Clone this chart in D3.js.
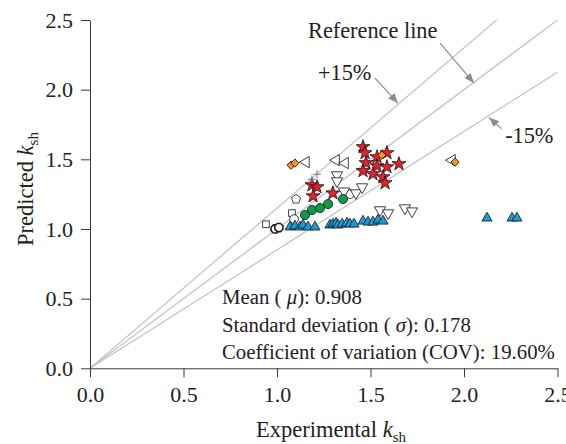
<!DOCTYPE html>
<html><head><meta charset="utf-8">
<script src="https://cdn.jsdelivr.net/npm/d3@7/dist/d3.min.js"></script>
<style>
body{margin:0;background:#fff;}
svg{display:block;font-family:"Liberation Serif","Times New Roman",serif;}
</style></head>
<body><svg id="c" width="566" height="444"></svg>
<script>
// ---- data ----
const ticks = [0, 0.5, 1.0, 1.5, 2.0, 2.5];
const stars = [[1.460,1.589],[1.471,1.546],[1.535,1.517],[1.588,1.546],[1.476,1.474],[1.535,1.452],[1.588,1.445],[1.652,1.467],[1.460,1.417],[1.513,1.395],[1.567,1.373],[1.578,1.330],[1.299,1.257],[1.187,1.315],[1.214,1.301],[1.193,1.236]];
const diamonds = [[1.075,1.458],[1.096,1.473],[1.561,1.530],[1.952,1.480]];
const leftTris = [[1.155,1.480],[1.316,1.494],[1.364,1.473],[1.936,1.494]];
const downTris = [[1.321,1.387],[1.321,1.344],[1.358,1.271],[1.422,1.258],[1.455,1.301],[1.551,1.136],[1.594,1.114],[1.684,1.150],[1.722,1.128]];
const openCircles = [[1.390,1.250],[1.091,1.071]];
const pentagons = [[1.102,1.214]];
const crosses = [[1.214,1.393],[1.187,1.357]];
const greens = [[1.150,1.100],[1.187,1.136],[1.230,1.150],[1.273,1.179],[1.353,1.215]];
const squares = [[0.941,1.034],[1.080,1.114]];
const octagons = [[0.990,1.000],[1.010,1.010]];
const blueTris = [[1.070,1.014],[1.096,1.021],[1.123,1.014],[1.139,1.028],[1.166,1.014],[1.203,1.014],[1.283,1.028],[1.299,1.035],[1.316,1.042],[1.326,1.028],[1.348,1.035],[1.374,1.042],[1.390,1.035],[1.412,1.035],[1.460,1.056],[1.487,1.049],[1.513,1.049],[1.540,1.064],[1.567,1.056],[2.123,1.078],[2.257,1.078],[2.283,1.078]];
const refSlopes = [1.15, 1.0, 0.85];
const statsLines = [["Mean ( ", "μ", "): 0.908"], ["Standard deviation ( ", "σ", "): 0.178"], ["Coefficient of variation (COV): 19.60%", "", ""]];

// ---- layout ----
const svg = d3.select("#c");
const x = d3.scaleLinear().domain([0, 2.5]).range([90, 557.5]);
const y = d3.scaleLinear().domain([0, 2.5]).range([368.3, 20]);
const FS = 22;

const defs = svg.append("defs");
defs.append("clipPath").attr("id","clip").append("rect")
  .attr("x", x(0)).attr("y", y(2.5)).attr("width", x(2.5)-x(0)).attr("height", y(0)-y(2.5));
defs.append("marker").attr("id","arr").attr("viewBox","0 0 10 10").attr("refX",10).attr("refY",5)
  .attr("markerWidth",10).attr("markerHeight",10).attr("markerUnits","userSpaceOnUse").attr("orient","auto")
  .append("path").attr("d","M0,1 L10,5 L0,9 Z").attr("fill","#8c8c8c");

// reference lines
svg.append("g").attr("clip-path","url(#clip)").selectAll("line").data(refSlopes).join("line")
  .attr("x1", x(0)).attr("y1", y(0)).attr("x2", x(2.5)).attr("y2", d => y(2.5*d))
  .attr("stroke","#c4c4c4").attr("stroke-width",1.3);

// axes
const fmt = d3.format(".1f");
const gx = svg.append("g").attr("transform",`translate(0,${y(0)})`)
  .call(d3.axisBottom(x).tickValues(ticks).tickFormat(fmt).tickSize(9).tickSizeOuter(0).tickPadding(9));
const gy = svg.append("g").attr("transform",`translate(${x(0)},0)`)
  .call(d3.axisLeft(y).tickValues(ticks).tickFormat(fmt).tickSize(9).tickSizeOuter(0).tickPadding(8));
[gx, gy].forEach(g => {
  g.selectAll("path,line").attr("stroke","#3a3a3a").attr("stroke-width",1);
  g.selectAll("text").attr("font-family","Liberation Serif").attr("font-size",FS).attr("fill","#222");
});

// axis titles
const xt = svg.append("text").attr("x",331).attr("y",437).attr("text-anchor","middle").attr("font-size",22.5).attr("fill","#222");
xt.append("tspan").text("Experimental ");
xt.append("tspan").attr("font-style","italic").text("k");
xt.append("tspan").attr("font-size",15).attr("dy",5).text("sh");
const yt = svg.append("text").attr("transform",`translate(33,189) rotate(-90)`).attr("text-anchor","middle").attr("font-size",22.5).attr("fill","#222");
yt.append("tspan").text("Predicted ");
yt.append("tspan").attr("font-style","italic").text("k");
yt.append("tspan").attr("font-size",15).attr("dy",5).text("sh");

// annotations
function ann(label, tx, ty, ax1, ay1, ax2, ay2){
  svg.append("text").attr("x",x(tx)).attr("y",y(ty)).attr("font-size",22.3).attr("fill","#222").text(label);
  svg.append("line").attr("x1",x(ax1)).attr("y1",y(ay1)).attr("x2",x(ax2)).attr("y2",y(ay2))
    .attr("stroke","#8c8c8c").attr("stroke-width",1.2).attr("marker-end","url(#arr)");
}
ann("Reference line", 1.166, 2.37, 1.872, 2.334, 2.053, 2.047);
ann("+15%", 1.219, 2.068, 1.524, 2.083, 1.647, 1.903);
ann("-15%", 2.22, 1.62, 2.20, 1.72, 2.134, 1.800);

// symbols
const pentagon = {draw(ctx, size){ const r=Math.sqrt(size/2.378); for(let i=0;i<5;i++){const a=-Math.PI/2+i*2*Math.PI/5; const px=r*Math.cos(a), py=r*Math.sin(a); i?ctx.lineTo(px,py):ctx.moveTo(px,py);} ctx.closePath(); }};
const octagon = {draw(ctx, size){ const r=Math.sqrt(size/2.828); for(let i=0;i<8;i++){const a=Math.PI/8+i*Math.PI/4; const px=r*Math.cos(a), py=r*Math.sin(a); i?ctx.lineTo(px,py):ctx.moveTo(px,py);} ctx.closePath(); }};

function pts(data, type, size, fill, rot, stroke, sw){
  svg.append("g").selectAll("path").data(data).join("path")
    .attr("d", d3.symbol().type(type).size(size))
    .attr("transform", d => `translate(${x(d[0])},${y(d[1])}) rotate(${rot||0})`)
    .attr("fill", fill).attr("stroke", stroke||"#111").attr("stroke-width", sw||0.8);
}
pts(octagons, octagon, 55, "#fff", 0, "#222", 1.6);
pts(squares, d3.symbolSquare, 45, "#fff");
pts(openCircles, d3.symbolCircle, 60, "#fff");
pts(pentagons, pentagon, 55, "#fff");
pts(leftTris, d3.symbolTriangle, 55, "#fff", -90);
pts(downTris, d3.symbolTriangle, 55, "#fff", 180);
pts(greens, d3.symbolCircle, 66, "#0e9a48");
pts(blueTris, d3.symbolTriangle, 45, "#1b9ad6");
pts(stars, d3.symbolStar, 60, "#e8202a");
pts(diamonds, d3.symbolSquare, 34, "#f5961e", 45);
// crosses
svg.append("g").selectAll("path").data(crosses).join("path")
  .attr("d","M-4,0H4M0,-4V4").attr("transform", d => `translate(${x(d[0])},${y(d[1])})`)
  .attr("stroke","#7a7a9e").attr("stroke-width",1).attr("fill","none");

// stats text
const st = svg.append("g").selectAll("text").data(statsLines).join("text")
  .attr("x", 222).attr("y", (d,i) => 304 + i*27.5).attr("font-size", 20.8).attr("fill","#222");
st.append("tspan").text(d => d[0]);
st.append("tspan").attr("font-style","italic").text(d => d[1]);
st.append("tspan").text(d => d[2]);
</script></body></html>
